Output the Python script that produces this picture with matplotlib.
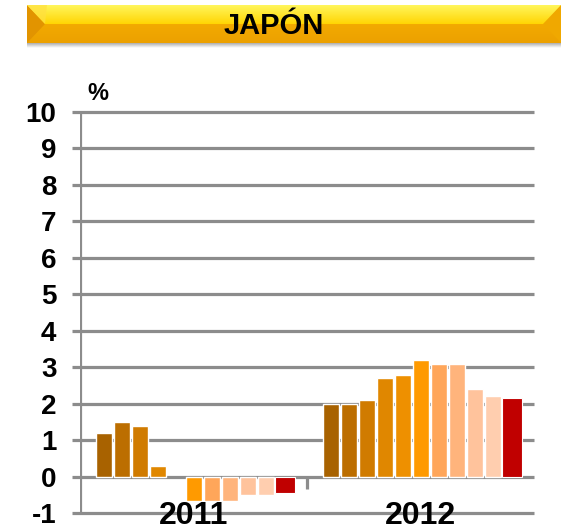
import numpy as np
import matplotlib
matplotlib.use("Agg")
import matplotlib.pyplot as plt
from matplotlib.patches import Polygon

# ---- data ----
years = ["2011", "2012"]
vals_2011 = [1.2, 1.5, 1.4, 0.3, np.nan, -0.65, -0.65, -0.65, -0.5, -0.5]
vals_2012 = [2.0, 2.0, 2.1, 2.7, 2.8, 3.2, 3.1, 3.1, 2.4, 2.2]
annual = [-0.45, 2.15]
shade_colors = ["#A86200", "#BC6E00", "#D07B00", "#E08700", "#EE9000",
                "#FF9A00", "#FFA65A", "#FFB47C", "#FFC39C", "#FFCEAF"]
annual_color = "#C00000"
yticks = list(range(-1, 11))
title = "JAPÓN"

W, H = 561, 531
fig = plt.figure(figsize=(W / 100, H / 100), dpi=100)
fig.patch.set_facecolor("white")

# ---- banner ----
bx0, bx1, by0, by1 = 27, 561, 5, 43
sh = fig.add_axes([bx0 / W, (H - by1 - 5) / H, (bx1 - bx0) / W, 6 / H])
sh.axis("off")
grad_s = np.linspace(0.55, 1.0, 20)[:, None] * np.ones((1, 10))
sh.imshow(grad_s, cmap="gray", vmin=0, vmax=1, aspect="auto", extent=[0, 1, 1, 0])
bax = fig.add_axes([bx0 / W, (H - by1) / H, (bx1 - bx0) / W, (by1 - by0) / H])
bh = by1 - by0
bw = bx1 - bx0
top = np.array([255, 245, 90]) / 255
mid = np.array([255, 212, 0]) / 255
low = np.array([242, 170, 0]) / 255
low2 = np.array([236, 160, 0]) / 255
img = np.zeros((bh, 1, 3))
for r in range(bh):
    if r < bh * 0.5:
        t = r / (bh * 0.5)
        img[r, 0] = top * (1 - t) + mid * t
    else:
        t = (r - bh * 0.5) / (bh * 0.5)
        img[r, 0] = low * (1 - t) + low2 * t
bax.imshow(np.repeat(img, 4, axis=1), aspect="auto", extent=[0, bw, bh, 0])
bax.set_xlim(0, bw)
bax.set_ylim(bh, 0)
bax.axis("off")
bev = 18
bax.add_patch(Polygon([[0, 0], [bev, bh / 2], [0, bh]], closed=True,
                      facecolor="#E29400", edgecolor="none"))
bax.add_patch(Polygon([[0, 0], [bev, bh / 2], [bev + 2, 0]], closed=True,
                      facecolor="#FFE040", edgecolor="none", alpha=0.7))
bax.add_patch(Polygon([[bw, 0], [bw - bev, bh / 2], [bw, bh]], closed=True,
                      facecolor="#F0A800", edgecolor="none"))
bax.text(274 - bx0, 26 - by0, title, ha="center", va="center",
         fontsize=21, fontweight="bold", color="black", family="Liberation Sans")

# ---- main axes ----
ax_l, ax_r = 80, 532
y_m1, y_10 = 513.3, 111.7
ax = fig.add_axes([ax_l / W, (H - y_m1) / H, (ax_r - ax_l) / W, (y_m1 - y_10) / H])
unit = 18.0
xmax = (ax_r - ax_l) / unit
grp_w = 227 / unit
ax.set_xlim(0, xmax)
ax.set_ylim(-1, 10)
for s in ax.spines.values():
    s.set_visible(False)

grid_c = "#8C8C8C"
ax.hlines(yticks, -8 / unit, xmax + 2 / unit, color=grid_c, lw=2.3, clip_on=False, zorder=1)
ax.vlines(0, -1, 10, color=grid_c, lw=2.3, zorder=1)
ax.vlines([grp_w, 2 * grp_w], -0.33, 0, color=grid_c, lw=2.3, zorder=1)

off = 1.32
slots = np.arange(10)
for g, vals in enumerate([vals_2011, vals_2012]):
    x = g * grp_w + off + slots
    ax.bar(x, vals, width=0.88, color=shade_colors, edgecolor="white", lw=1.0, zorder=3)
    ax.bar(g * grp_w + off + 10.08, annual[g], width=1.13, color=annual_color,
           edgecolor="white", lw=0.8, zorder=3)
    ax.text((g + 0.5) * grp_w, -1.08, years[g], ha="center", va="center",
            fontsize=23, fontweight="bold", family="Liberation Sans", zorder=5,
            clip_on=False)

ax.set_xticks([])
ax.set_yticks(yticks)
ax.set_yticklabels([str(v) for v in yticks], fontsize=20, fontweight="bold",
                   family="Liberation Sans")
ax.tick_params(axis="y", length=0, pad=17)
ax.text(0.97, 10.5, "%", ha="center", va="center", fontsize=17, fontweight="bold",
        family="Liberation Sans", clip_on=False)

fig.savefig("out.png", dpi=100, facecolor="white")
